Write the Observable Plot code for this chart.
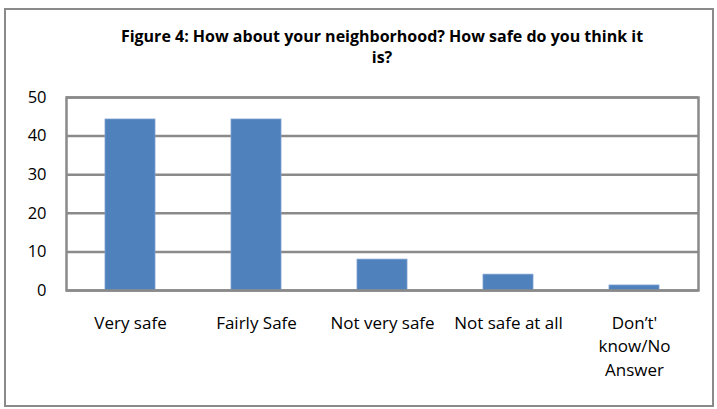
<!DOCTYPE html>
<html>
<head>
<meta charset="utf-8">
<script src="https://cdn.jsdelivr.net/npm/d3@7"></script>
<script src="https://cdn.jsdelivr.net/npm/@observablehq/plot@0.6"></script>
<style>
  body { margin: 0; background: #fff; }
  #wrap { position: relative; width: 717px; height: 409px; overflow: hidden; font-family: "Open Sans", Lato, sans-serif; }
  #border { position: absolute; left: 4px; top: 8px; width: 706px; height: 395px; border: 2px solid #8a8a8a; }
  #title { position: absolute; left: 62px; width: 640px; top: 26px; text-align: center; font-weight: bold; font-size: 16px; line-height: 21px; color: #000; }
  #chart { position: absolute; left: 0; top: 0; }
</style>
</head>
<body>
<div id="wrap">
  <div id="border"></div>
  <div id="chart"></div>
  <div id="title">Figure 4: How about your neighborhood? How safe do you think it<br>is?</div>
</div>
<script>
const categories = ["Very safe", "Fairly Safe", "Not very safe", "Not safe at all", "Don’t' know/No Answer"];
const categoryLabels = ["Very safe", "Fairly Safe", "Not very safe", "Not safe at all", "Don’t'\nknow/No\nAnswer"];
const values = [44.3, 44.3, 8.0, 4.1, 1.3];
const yTicks = [0, 10, 20, 30, 40, 50];

const data = categories.map((c, i) => ({category: c, value: values[i]}));
const labelOf = new Map(categories.map((c, i) => [c, categoryLabels[i]]));

const grid = "#8a8a8a";
const chart = Plot.plot({
  width: 717,
  height: 409,
  marginTop: 97,
  marginBottom: 119,
  marginLeft: 66,
  marginRight: 19,
  style: {fontFamily: "'Open Sans', Lato, sans-serif", fontSize: "16px", color: "#000", background: "transparent"},
  x: {domain: categories, paddingInner: 0.6, paddingOuter: 0.3, label: null},
  y: {domain: [0, 50], label: null},
  marks: [
    Plot.ruleY(yTicks, {stroke: grid, strokeWidth: 2.5}),
    Plot.barY(data, {x: "category", y: "value", fill: "#4F81BD", stroke: "#7da0cf", strokeWidth: 0.8}),
    Plot.frame({stroke: grid, strokeWidth: 2.5}),
    Plot.axisY(yTicks, {tickSize: 0, tickPadding: 20, fontSize: 16.5}),
    Plot.axisX({tickSize: 0, tickPadding: 21, fontSize: 17, lineHeight: 1.41, tickFormat: d => labelOf.get(d)})
  ]
});
document.getElementById("chart").appendChild(chart);
</script>
</body>
</html>
